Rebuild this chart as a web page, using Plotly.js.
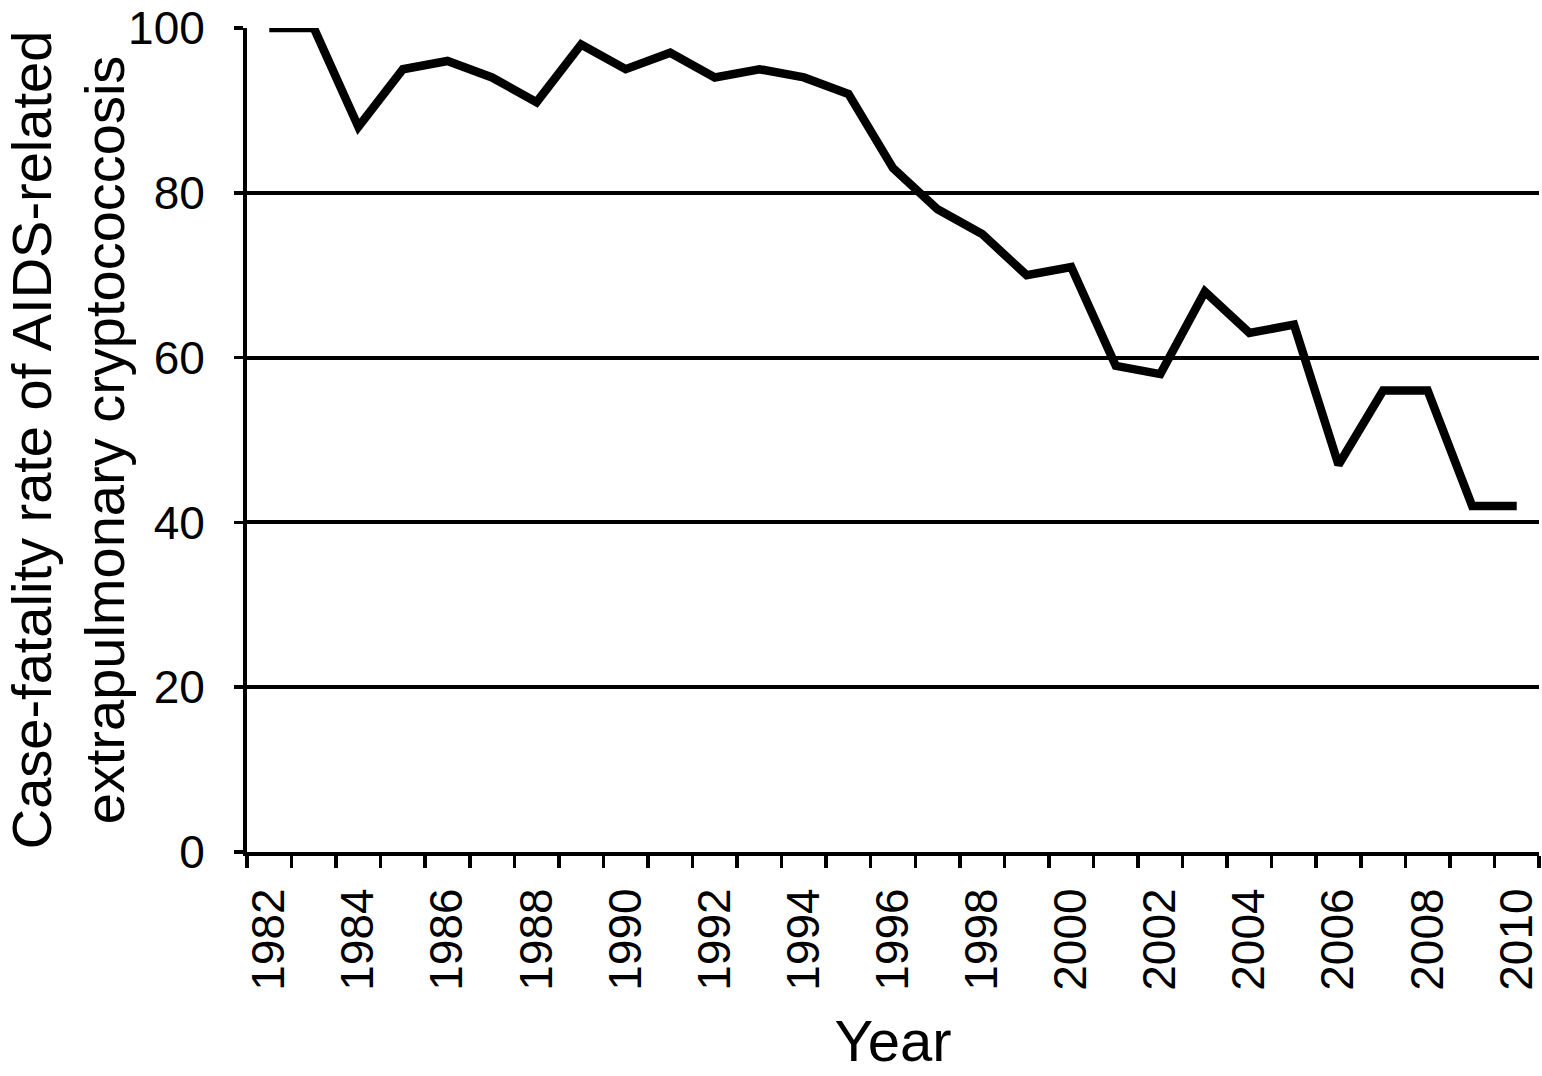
<!DOCTYPE html>
<html>
<head>
<meta charset="utf-8">
<script src="https://cdn.plot.ly/plotly-3.0.1.min.js"></script>
<style>html,body{margin:0;padding:0;background:#fff;}#chart{width:1542px;height:1076px;}</style>
</head>
<body>
<div id="chart"></div>
<script>
const years = [1982,1983,1984,1985,1986,1987,1988,1989,1990,1991,1992,1993,1994,1995,1996,1997,1998,1999,2000,2001,2002,2003,2004,2005,2006,2007,2008,2009,2010];
const fatalityRate = [100,100,88,95,96,94,91,98,95,97,94,95,94,92,83,78,75,70,71,59,58,68,63,64,47,56,56,42,42];
const yearTickLabels = ["1982","1984","1986","1988","1990","1992","1994","1996","1998","2000","2002","2004","2006","2008","2010"];
const yTickValues = [0,20,40,60,80,100];

const labelYears = yearTickLabels.map(Number);
const boundaries = years.map(y => y - 0.5).concat([years[years.length-1] + 0.5]);
const font = "Liberation Sans, Arial, Helvetica, sans-serif";

const trace = {
  x: years,
  y: fatalityRate,
  type: 'scatter',
  mode: 'lines',
  line: {color: '#000', width: 8.5},
  cliponaxis: false,
  hoverinfo: 'x+y'
};

const layout = {
  width: 1542,
  height: 1076,
  margin: {l: 247, r: 3, t: 28, b: 224},
  paper_bgcolor: '#fff',
  plot_bgcolor: '#fff',
  showlegend: false,
  font: {family: font, color: '#000'},
  xaxis: {
    range: [boundaries[0], boundaries[boundaries.length-1]],
    tickmode: 'array',
    tickvals: labelYears,
    ticktext: yearTickLabels,
    ticks: '',
    tickangle: -90,
    tickfont: {family: font, size: 46, color: '#000'},
    ticklabelstandoff: 14,
    showgrid: false,
    zeroline: false,
    showline: true,
    linecolor: '#000',
    linewidth: 4,
    minor: {tickmode: 'array', tickvals: boundaries, ticks: 'outside', ticklen: 12, tickwidth: 3.5, tickcolor: '#000', showgrid: false},
    title: {text: 'Year', font: {family: font, size: 58, color: '#000'}, standoff: 32},
    fixedrange: true
  },
  yaxis: {
    range: [0, 100],
    tickmode: 'array',
    tickvals: yTickValues,
    ticks: 'outside',
    ticklen: 9,
    tickwidth: 3.5,
    tickcolor: '#000',
    tickfont: {family: font, size: 46, color: '#000'},
    ticklabelstandoff: 20,
    showgrid: true,
    gridcolor: '#000',
    gridwidth: 4,
    zeroline: false,
    showline: true,
    linecolor: '#000',
    linewidth: 4,
    title: {text: 'Case-fatality rate of AIDS-related<br>extrapulmonary cryptococcosis', font: {family: font, size: 56, color: '#000'}, standoff: 20},
    fixedrange: true
  }
};

Plotly.newPlot('chart', [trace], layout, {displayModeBar: false, staticPlot: true});
</script>
</body>
</html>
